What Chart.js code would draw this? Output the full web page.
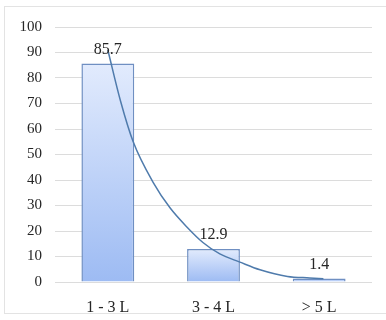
<!DOCTYPE html>
<html>
<head>
<meta charset="utf-8">
<script src="https://cdn.jsdelivr.net/npm/chart.js@4"></script>
<style>
  html, body { margin: 0; padding: 0; background: #fff; overflow: hidden; }
  #wrap { position: relative; width: 386px; height: 320px; overflow: hidden; }
  #frame { position: absolute; left: 4px; top: 6px; right: -6px; bottom: 6px; border: 1px solid #e3e3e3; }
</style>
</head>
<body>
<div id="wrap">
  <div id="frame"></div>
  <canvas id="c" width="386" height="320"></canvas>
</div>
<script>
const categories = ['1 - 3 L', '3 - 4 L', '> 5 L'];
const shares = [85.7, 12.9, 1.4];
const yTicks = [0, 10, 20, 30, 40, 50, 60, 70, 80, 90, 100];
// trend curve (x in category units, 1 = first bar)
const trendX = [1.0, 1.12, 1.24, 1.43, 1.59, 1.75, 1.9, 2.06, 2.25, 2.44, 2.7, 2.91, 3.04];
const trendY = [91, 71, 55, 39, 29, 21.5, 15.5, 11, 7.8, 4.8, 2.2, 1.6, 1.3];

const serif = "'Liberation Serif', 'Times New Roman', serif";
const textColor = '#262626';

function barFill(ctx) {
  const chart = ctx.chart;
  const area = chart.chartArea;
  if (!area || ctx.raw == null) return '#c4d6f8';
  const top = chart.scales.y.getPixelForValue(ctx.raw);
  const g = chart.ctx.createLinearGradient(0, top, 0, area.bottom);
  g.addColorStop(0, '#e2ebfd');
  g.addColorStop(1, '#9dbbf3');
  return g;
}

const valueLabels = {
  id: 'valueLabels',
  afterDatasetsDraw(chart) {
    const meta = chart.getDatasetMeta(1);
    const c = chart.ctx;
    c.save();
    c.font = '16px ' + serif;
    c.fillStyle = textColor;
    c.textAlign = 'center';
    c.textBaseline = 'middle';
    meta.data.forEach((bar, i) => {
      c.fillText(String(shares[i]), bar.x, bar.y - 14);
    });
    c.restore();
  }
};

new Chart(document.getElementById('c'), {
  data: {
    labels: categories,
    datasets: [
      {
        type: 'line',
        data: trendX.map((x, i) => ({ x: x, y: trendY[i] })),
        xAxisID: 'xt',
        borderColor: '#4f7bac',
        borderWidth: 1.5,
        pointRadius: 0,
        cubicInterpolationMode: 'monotone',
        order: 0,
      },
      {
        type: 'bar',
        data: shares,
        backgroundColor: barFill,
        borderColor: '#6f8fc2',
        borderWidth: 1.5,
        barPercentage: 0.5,
        categoryPercentage: 1,
        grouped: false,
        order: 1,
      },
    ],
  },
  options: {
    responsive: false,
    animation: false,
    layout: { padding: { top: 27, right: 14, bottom: 0, left: 0 } },
    plugins: { legend: { display: false }, tooltip: { enabled: false } },
    scales: {
      x: {
        grid: { display: false },
        border: { display: false },
        ticks: { font: { family: serif, size: 16 }, color: textColor, padding: 8 },
        afterFit(axis) { axis.height = 38; },
      },
      xt: { type: 'linear', min: 0.5, max: 3.5, display: false },
      y: {
        min: 0, max: 100,
        afterBuildTicks(axis) { axis.ticks = yTicks.map(v => ({ value: v })); },
        grid: { color: '#dcdcdc', lineWidth: 1, drawTicks: false },
        border: { display: false },
        ticks: { font: { family: serif, size: 15 }, color: textColor, padding: 13 },
        afterFit(axis) { axis.width = 55; },
      },
    },
  },
  plugins: [valueLabels],
});
</script>
</body>
</html>
